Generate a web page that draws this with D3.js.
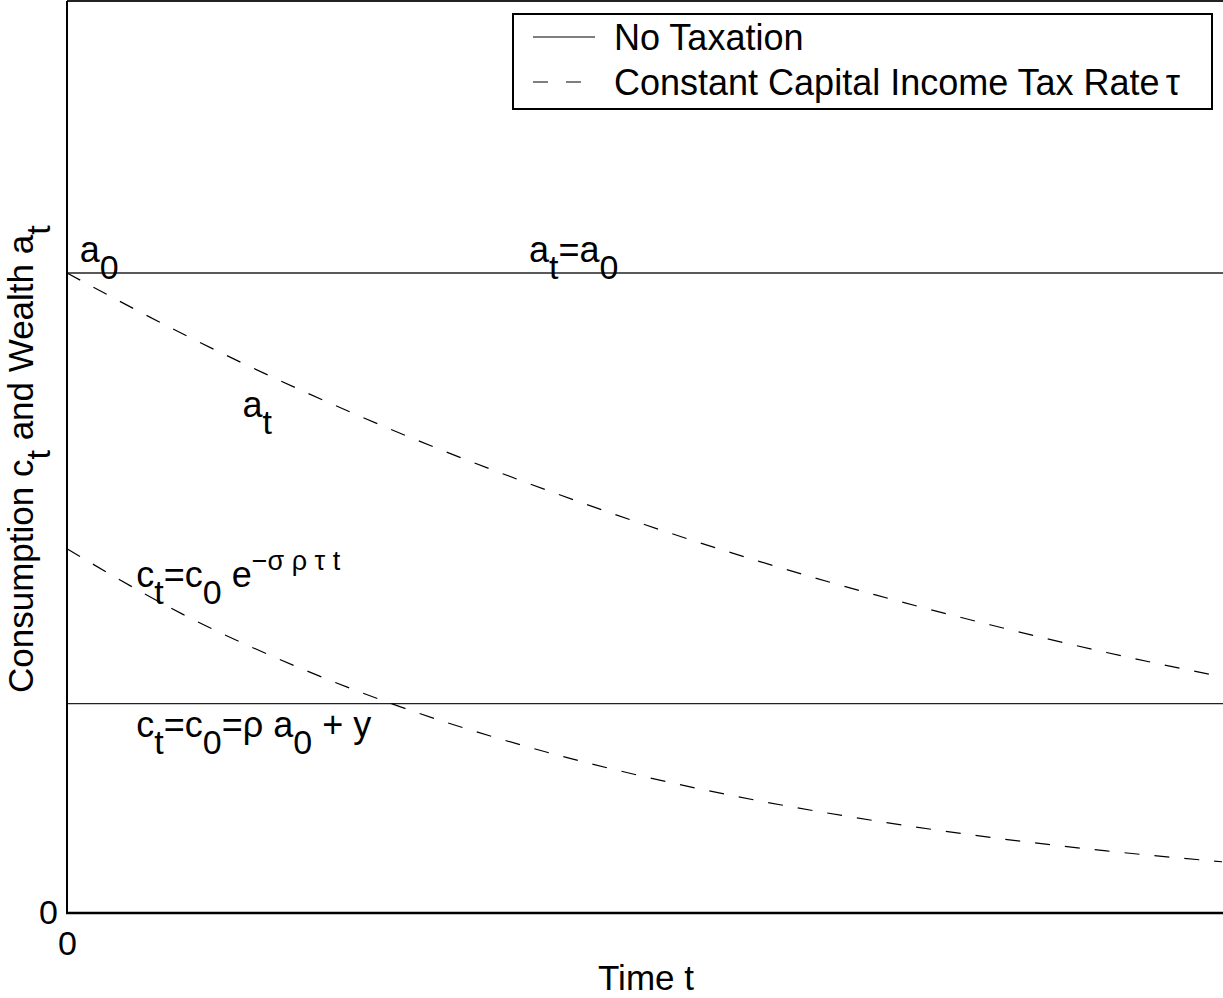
<!DOCTYPE html>
<html>
<head>
<meta charset="utf-8">
<script src="https://cdn.jsdelivr.net/npm/d3@7"></script>
<style>
  body { margin: 0; background: #fff; }
  svg { display: block; font-family: "Liberation Sans", Arial, sans-serif; }
</style>
</head>
<body>
<svg id="chart" width="1223" height="998"></svg>
<script>
// time grid (arbitrary units, 0..10)
var tGrid = [0, 1, 2, 3, 4, 5, 6, 7, 8, 9, 10];
// wealth a_t with constant capital income tax (a0 = 1)
var wealthTax = [1.000, 0.905, 0.819, 0.741, 0.671, 0.607, 0.549, 0.497, 0.450, 0.407, 0.369];
// consumption c_t with constant capital income tax
var consTax = [0.569, 0.467, 0.384, 0.315, 0.259, 0.213, 0.175, 0.144, 0.118, 0.097, 0.080];

// no taxation: both stay flat
var noTaxT = [0, 11];
var wealthNoTax = [1, 1];
var consNoTax = [0.327, 0.327];

var xTicks = [0];
var yTicks = [0];

var legendLabels = ["No Taxation", "Constant Capital Income Tax Rate"];

var svg = d3.select("#chart");

var xScale = d3.scaleLinear()
                .domain([0, 10])
                .range([67, 1222]);

var yScale = d3.scaleLinear()
                .domain([0, 1.425])
                .range([913, 1]);

var line = d3.line()
    .x(function(d) { return xScale(d[0]); })
    .y(function(d) { return yScale(d[1]); })
    .curve(d3.curveMonotoneX);

// zip t and value arrays into points
const zip = (ts, vs) => ts.map((t, i) => [t, vs[i]]);

// solid no-tax lines
[wealthNoTax, consNoTax].forEach(vals => {
    svg.append("path")
        .attr("d", line(zip(noTaxT, vals)))
        .attr("fill", "none")
        .attr("stroke", "#222")
        .attr("stroke-width", 1.3);
});

// dashed lines with tax
[wealthTax, consTax].forEach(vals => {
    svg.append("path")
        .attr("d", line(zip(tGrid, vals)))
        .attr("fill", "none")
        .attr("stroke", "#000")
        .attr("stroke-width", 1.2)
        .attr("stroke-dasharray", "15,15");
});

// box: top, left, bottom
var xEnd = xScale(11);
svg.append("line")
    .attr("x1", xScale(0)).attr("x2", xEnd)
    .attr("y1", yScale(1.425)).attr("y2", yScale(1.425))
    .attr("stroke", "#222").attr("stroke-width", 2);

var xAxis = svg.append("g")
    .attr("transform", "translate(0," + yScale(0) + ")")
    .call(d3.axisBottom(xScale).tickValues(xTicks).tickSize(0).tickPadding(18).tickFormat(d3.format("d")));
xAxis.select(".domain").remove();
xAxis.append("line")
    .attr("x1", xScale(0) - 1).attr("x2", xEnd)
    .attr("stroke", "#000").attr("stroke-width", 2.5);

var yAxis = svg.append("g")
    .attr("transform", "translate(" + xScale(0) + ",0)")
    .call(d3.axisLeft(yScale).tickValues(yTicks).tickSize(0).tickPadding(9).tickFormat(d3.format("d")));
yAxis.select(".domain").remove();
yAxis.append("line")
    .attr("y1", yScale(1.425)).attr("y2", yScale(0))
    .attr("stroke", "#000").attr("stroke-width", 2);

svg.selectAll(".tick text")
    .attr("font-family", "Liberation Sans, Arial, sans-serif")
    .attr("font-size", 34)
    .attr("fill", "#000");

// text with sub/superscripts; parts: [text, shift] shift: 0 normal, 1 sub, -1 sup
const richText = (x, y, parts, size) => {
    var txt = svg.append("text")
        .attr("x", x).attr("y", y)
        .attr("font-size", size)
        .attr("fill", "#000");
    var cur = 0;
    parts.forEach(p => {
        var target = p[1] == 1 ? 17 : (p[1] == -1 ? -17 : 0);
        txt.append("tspan")
            .attr("dy", target - cur)
            .attr("font-size", p[1] == -1 ? 27 : (p[1] == 1 ? 34 : size))
            .text(p[0]);
        cur = target;
    });
    return txt;
};

// annotations, anchored in data units
richText(xScale(0.11), yScale(1) - 11, [["a", 0], ["0", 1]], 36);
richText(xScale(4.0), yScale(1) - 11, [["a", 0], ["t", 1], ["=a", 0], ["0", 1]], 36);
richText(xScale(1.52), yScale(1) + 144, [["a", 0], ["t", 1]], 36);
richText(xScale(0.6), yScale(0.569) + 38,
    [["c", 0], ["t", 1], ["=c", 0], ["0", 1], [" e", 0], ["\u2212\u03c3 \u03c1 \u03c4 t", -1]], 36);
richText(xScale(0.6), yScale(0.327) + 33,
    [["c", 0], ["t", 1], ["=c", 0], ["0", 1], ["=\u03c1 a", 0], ["0", 1], [" + y", 0]], 36);

// axis titles
svg.append("text")
    .attr("x", 646)
    .attr("y", 990)
    .attr("text-anchor", "middle")
    .attr("font-size", 35)
    .text("Time t");

var yTitle = richText(0, 0,
    [["Consumption c", 0], ["t", 1], [" and Wealth a", 0], ["t", 1]], 35)
    .attr("transform", "translate(33,693) rotate(-90)");

// legend
var legend = svg.append("g");
legend.append("rect")
    .attr("x", 513).attr("y", 14)
    .attr("width", 699).attr("height", 95)
    .attr("fill", "#fff")
    .attr("stroke", "#000")
    .attr("stroke-width", 2);

legendLabels.forEach((lab, i) => {
    var ly = 37 + i * 45;
    legend.append("line")
        .attr("x1", 533).attr("x2", 595)
        .attr("y1", ly).attr("y2", ly)
        .attr("stroke", "#000")
        .attr("stroke-width", 1.2)
        .attr("stroke-dasharray", i == 1 ? "15,18" : null);
    var t = legend.append("text")
        .attr("x", 614).attr("y", ly + 13)
        .attr("font-size", 36)
        .text(lab);
    if (i == 1) {
        t.append("tspan").attr("dx", 6).text("\u03c4");
    }
});
</script>
</body>
</html>
